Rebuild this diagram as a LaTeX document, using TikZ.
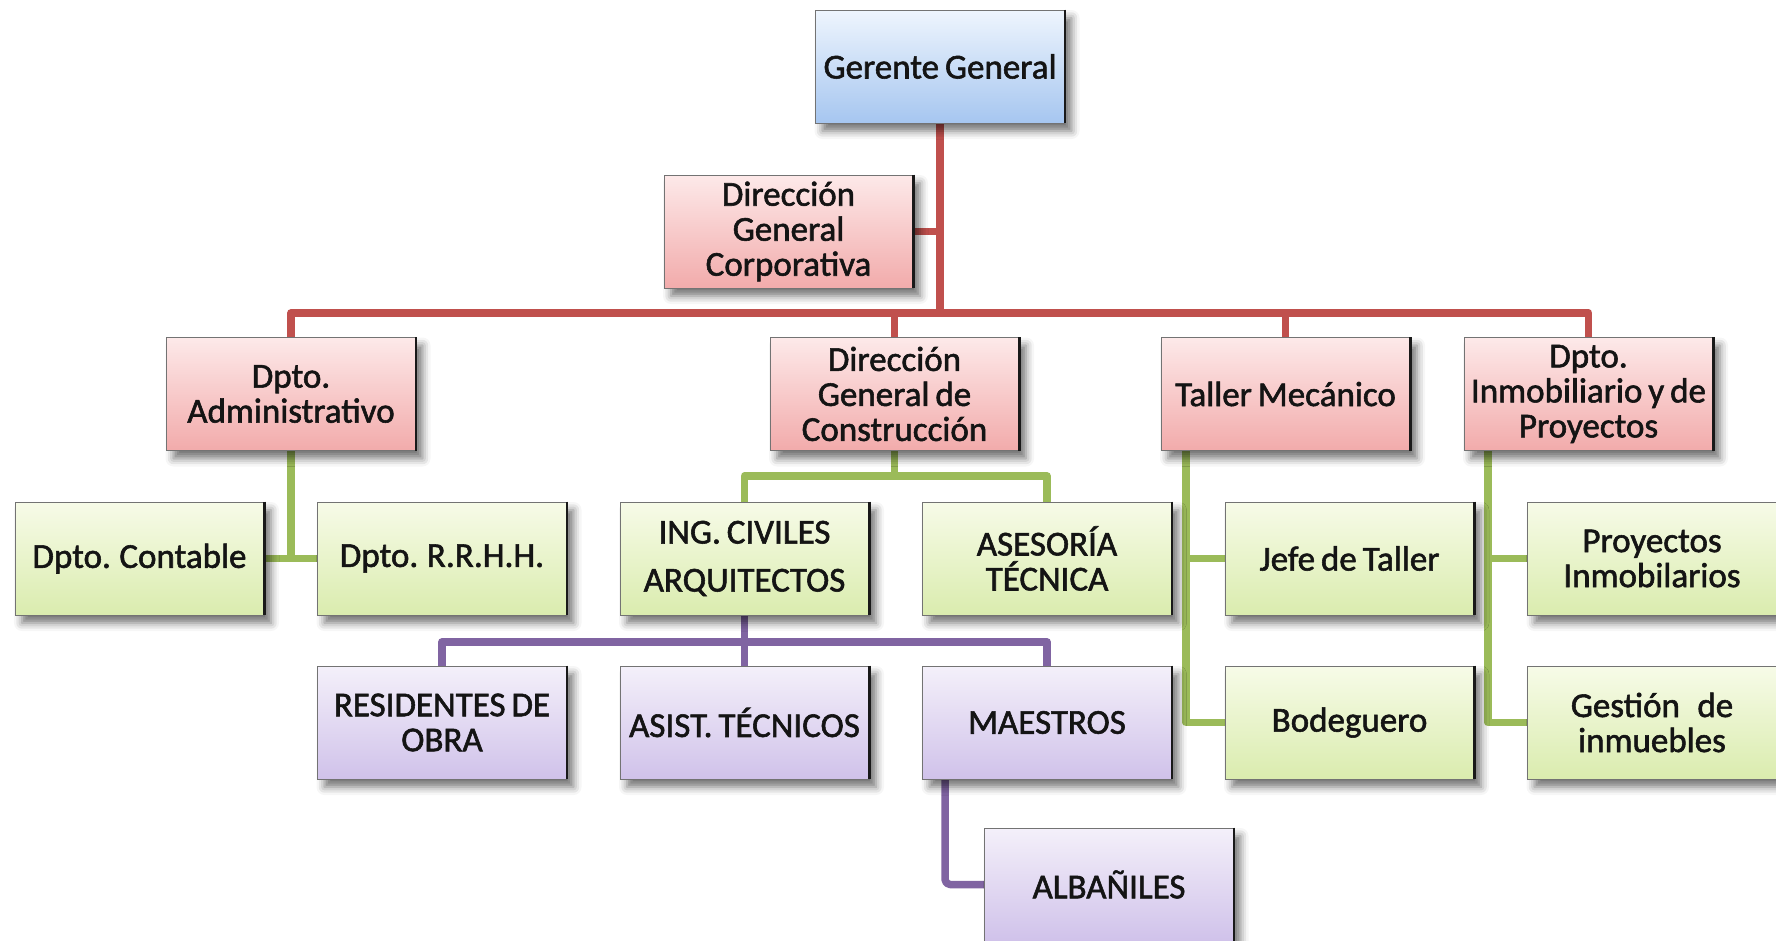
\documentclass[tikz,border=0pt]{standalone}
\usepackage{fontspec}
\setmainfont[FakeBold=1.6, WordSpace=0.75]{Carlito}
\usetikzlibrary{shadows.blur,backgrounds}

\definecolor{lnred}{HTML}{C0504D}
\definecolor{lngreen}{HTML}{9BBB59}
\definecolor{lnpurple}{HTML}{8064A2}
\definecolor{blueT}{HTML}{EEF5FD}
\definecolor{blueB}{HTML}{A6C6F0}
\definecolor{redT}{HTML}{FDE9E9}
\definecolor{redB}{HTML}{F2ABAB}
\definecolor{greenT}{HTML}{F7FBE8}
\definecolor{greenB}{HTML}{DAECAE}
\definecolor{purpT}{HTML}{F4F0FA}
\definecolor{purpB}{HTML}{D0C2EA}
\definecolor{txt}{HTML}{141414}

\tikzset{
  box/.style={draw=black!55, line width=0.9pt,
    minimum width=249pt, minimum height=113pt,
    align=center, inner sep=0pt, text=txt,
    font=\fontsize{35}{35}\selectfont,
    blur shadow={shadow xshift=7pt, shadow yshift=-8pt,
      shadow blur radius=8pt, shadow opacity=55}},
  bluebox/.style={box, top color=blueT, bottom color=blueB},
  redbox/.style={box, top color=redT, bottom color=redB},
  greenbox/.style={box, top color=greenT, bottom color=greenB},
  purpbox/.style={box, top color=purpT, bottom color=purpB},
  conn/.style={line width=7.5pt, line join=round},
  redline/.style={conn, draw=lnred},
  greenline/.style={conn, draw=lngreen},
  purpline/.style={conn, draw=lnpurple},
  darkedge/.style={line width=2.8pt, draw=black!90}
}

\begin{document}
\begin{tikzpicture}[x=1pt, y=-1pt]
\useasboundingbox (0,0) rectangle (1776,940);

% top level
\node[bluebox] (gg)   at (940,66.5)  {Gerente General};
\node[redbox]  (corp) at (788.5,231.5) {Dirección\\General\\Corporativa};

% departments
\node[redbox] (adm) at (291,394)    {Dpto.\\Administrativo};
\node[redbox] (dc)  at (894.5,394)  {Dirección\\General de\\Construcción};
\node[redbox] (tm)  at (1285.5,394) {Taller Mecánico};
\node[redbox] (inm) at (1588.5,394) {Dpto.\\Inmobiliario y de\\Proyectos};

% third row
\node[greenbox] (con) at (139.5,558.5) {Dpto. Contable};
\node[greenbox] (rh)  at (442,558.5)   {Dpto. R.R.H.H.};
\node[greenbox] (ing) at (744.5,558.5) {ING. CIVILES\\[13pt]ARQUITECTOS};
\node[greenbox] (ase) at (1047,558.5)  {ASESORÍA\\TÉCNICA};
\node[greenbox] (jef) at (1349.5,558.5) {Jefe de Taller};
\node[greenbox] (pro) at (1652,558.5)  {Proyectos\\Inmobilarios};

% fourth row
\node[purpbox]  (res) at (442,722.5)   {RESIDENTES DE\\OBRA};
\node[purpbox]  (asi) at (744.5,722.5) {ASIST. TÉCNICOS};
\node[purpbox]  (mae) at (1047,722.5)  {MAESTROS};
\node[greenbox] (bod) at (1349.5,722.5) {Bodeguero};
\node[greenbox] (ges) at (1652,722.5)  {Gestión\hspace{0.5em}de\\inmuebles};

% fifth row
\node[purpbox] (alb) at (1109,884.5) {ALBAÑILES};

% dark right edges of the boxes
\foreach \n in {gg,corp,adm,dc,tm,inm,con,rh,ing,ase,jef,pro,res,asi,mae,bod,ges,alb}
  \draw[darkedge] (\n.north east) -- (\n.south east);

% bus levels and vertical rails
\coordinate (rbus) at (0,313);
\coordinate (gbus) at (0,476);
\coordinate (pbus) at (0,642);
\coordinate (trail) at (1186,0);
\coordinate (irail) at (1488,0);
\coordinate (mrail) at (945,0);

\begin{pgfonlayer}{background}
  % red hierarchy
  \draw[redline] (gg.south) -- (gg.south |- rbus);
  \draw[redline] (corp.east) -- (corp.east -| gg.south);
  \draw[redline] (adm.north) -- (adm.north |- rbus) -- (inm.north |- rbus) -- (inm.north);
  \draw[redline] (dc.north) -- (dc.north |- rbus);
  \draw[redline] (tm.north) -- (tm.north |- rbus);

  % administration
  \draw[greenline] (adm.south) -- (adm.south |- con.east);
  \draw[greenline] (con.east) -- (rh.west);

  % construction
  \draw[greenline] (dc.south) -- (dc.south |- gbus);
  \draw[greenline] (ing.north) -- (ing.north |- gbus) -- (ase.north |- gbus) -- (ase.north);

  % workshop
  \draw[greenline] (tm.south -| trail) -- (trail |- bod.west) -- (bod.west);
  \draw[greenline] (trail |- jef.west) -- (jef.west);

  % real estate
  \draw[greenline] (inm.south -| irail) -- (irail |- ges.west) -- (ges.west);
  \draw[greenline] (irail |- pro.west) -- (pro.west);

  % engineers
  \draw[purpline] (ing.south) -- (ing.south |- pbus);
  \draw[purpline] (res.north) -- (res.north |- pbus) -- (mae.north |- pbus) -- (mae.north);
  \draw[purpline] (asi.north) -- (asi.north |- pbus);

  % foremen
  \draw[purpline, rounded corners=5pt] (mae.south -| mrail) -- (mrail |- alb.west) -- (alb.west);
\end{pgfonlayer}
\end{tikzpicture}
\end{document}
